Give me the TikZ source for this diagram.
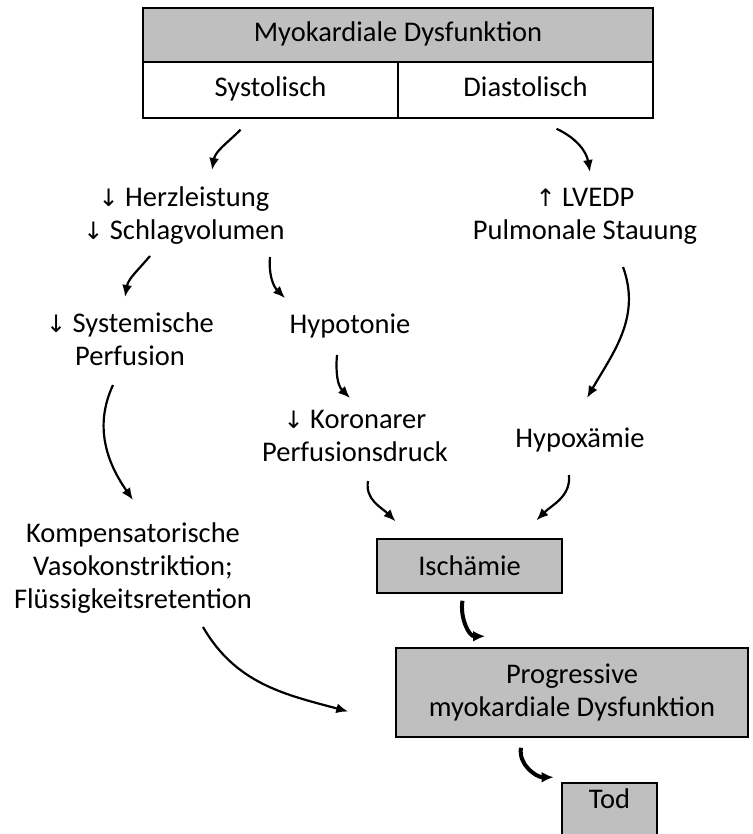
\documentclass[tikz,border=0pt]{standalone}
\usepackage{fontspec}
\setmainfont{Carlito}
\newfontfamily\pfeilfont{DejaVu Sans}
\usepackage{xcolor}
\usepackage{tikz}
\usetikzlibrary{arrows.meta}
\definecolor{kastengrau}{RGB}{191,191,191}
\newcommand{\runter}{{\pfeilfont\fontsize{24}{24}\selectfont↓}}
\newcommand{\rauf}{{\pfeilfont\fontsize{24}{24}\selectfont↑}}
\tikzset{
	kasten/.style={draw, line width=1.5pt, fill=kastengrau, inner sep=0pt, align=center},
	zelle/.style={draw, line width=1.5pt, fill=white, inner sep=0pt, minimum width=255pt, minimum height=56pt, text height=19pt, text depth=6pt},
	stufe/.style={align=center, inner sep=0pt},
	pfeil/.style={-{Latex[length=12pt,width=10pt]}, line width=2.2pt},
	dickpfeil/.style={-{Latex[length=12pt,width=11pt]}, line width=4pt}
}
\begin{document}
\begin{tikzpicture}
	[
	x=1pt, y=-1pt, font=\fontsize{28.5}{33}\selectfont
	%Pfeilspitzen über die Stile
	]
	\useasboundingbox (0,0) rectangle (752,834);
	%Kopf
	\node[kasten, minimum width=510pt, minimum height=54pt, text height=19pt, text depth=6pt] (myo) at (398,35) {Myokardiale Dysfunktion};
	\node[zelle] (sys) at (270.5,90) {Systolisch};
	\node[zelle] (dia) at (525.5,90) {Diastolisch};
	%Folgen
	\node[stufe] (herz) at (184,216) {\runter\ Herzleistung\\\runter\ Schlagvolumen};
	\node[stufe] (lvedp) at (585,216) {\rauf\ LVEDP\\Pulmonale Stauung};
	\node[stufe] (syst) at (130,339) {\runter\ Systemische\\Perfusion};
	\node[stufe] (hypot) at (350,326) {Hypotonie};
	\node[stufe] (koron) at (355,436) {\runter\ Koronarer\\Perfusionsdruck};
	\node[stufe] (hypox) at (580,440) {Hypoxämie};
	\node[stufe] (komp) at (133,568) {Kompensatorische\\Vasokonstriktion;\\Flüssigkeitsretention};
	%Endstrecke
	\node[kasten, minimum width=185pt, minimum height=54pt] (isch) at (469.5,566) {Ischämie};
	\node[kasten, minimum width=352pt, minimum height=89pt] (prog) at (572,692.5) {Progressive\\myokardiale Dysfunktion};
	\node[kasten, anchor=base, minimum width=95pt, text height=19pt, text depth=24pt, inner ysep=6pt] (tod) at (609.5,808) {Tod};
	%Pfeile
	\draw[pfeil] ([xshift=-30pt,yshift=-11pt]sys.south) to[out=-135,in=80] ([xshift=28pt,yshift=46pt]herz.center);
	\draw[pfeil] ([xshift=31pt,yshift=-10pt]dia.south) to[out=-25,in=100] ([xshift=5pt,yshift=44pt]lvedp.center);
	\draw[pfeil] ([xshift=-34pt,yshift=-40pt]herz.center) to[out=-130,in=80] ([xshift=-5pt,yshift=42pt]syst.center);
	\draw[pfeil] ([xshift=86pt,yshift=-41pt]herz.center) to[out=-95,in=135] ([xshift=-65pt,yshift=28pt]hypot.center);
	\draw[pfeil] ([xshift=38pt,yshift=-51pt]lvedp.center) to[out=-70,in=60] ([xshift=7pt,yshift=42pt]hypox.center);
	\draw[pfeil] ([xshift=-13pt,yshift=-29pt]hypot.center) to[out=-95,in=135] ([xshift=-5pt,yshift=38pt]koron.center);
	\draw[pfeil] ([xshift=-17pt,yshift=-46pt]syst.center) to[out=-115,in=125] ([yshift=68pt]komp.center);
	\draw[pfeil] ([xshift=13pt,yshift=-45pt]koron.center) to[out=-100,in=135] ([xshift=-74pt,yshift=17pt]isch.north);
	\draw[pfeil] ([xshift=-11pt,yshift=-35pt]hypox.center) to[out=-85,in=45] ([xshift=67pt,yshift=18pt]isch.north);
	\draw[pfeil] ([xshift=70pt,yshift=-59pt]komp.center) to[out=-60,in=165] ([xshift=-47pt,yshift=-19pt]prog.west);
	\draw[dickpfeil] ([xshift=-7pt,yshift=-7pt]isch.south) to[out=-100,in=180] ([xshift=-87pt,yshift=11pt]prog.north);
	\draw[dickpfeil] ([xshift=-51pt,yshift=-10pt]prog.south) to[out=-100,in=180] ([xshift=-56pt,yshift=5pt]tod.north);
\end{tikzpicture}
\end{document}
